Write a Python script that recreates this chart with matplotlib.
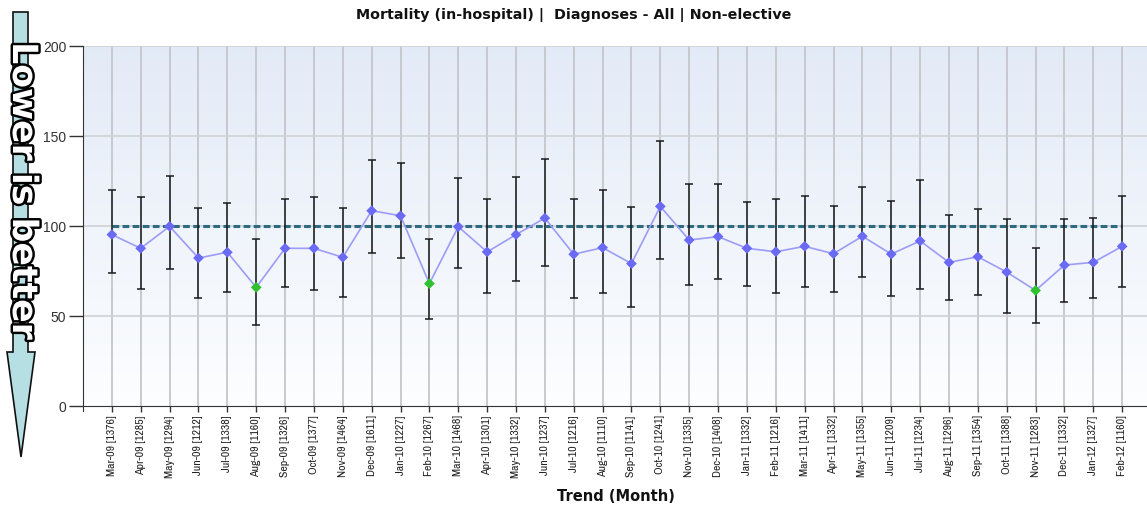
import numpy as np
import matplotlib
matplotlib.use("Agg")
import matplotlib.pyplot as plt
from matplotlib.patches import Polygon
import matplotlib.patheffects as pe

months = ["Mar-09", "Apr-09", "May-09", "Jun-09", "Jul-09", "Aug-09", "Sep-09", "Oct-09",
          "Nov-09", "Dec-09", "Jan-10", "Feb-10", "Mar-10", "Apr-10", "May-10", "Jun-10",
          "Jul-10", "Aug-10", "Sep-10", "Oct-10", "Nov-10", "Dec-10", "Jan-11", "Feb-11",
          "Mar-11", "Apr-11", "May-11", "Jun-11", "Jul-11", "Aug-11", "Sep-11", "Oct-11",
          "Nov-11", "Dec-11", "Jan-12", "Feb-12"]
counts = [1376, 1285, 1294, 1212, 1338, 1160, 1326, 1377, 1464, 1611, 1227, 1267,
          1468, 1301, 1332, 1237, 1216, 1110, 1141, 1241, 1335, 1408, 1332, 1216,
          1411, 1332, 1355, 1209, 1234, 1296, 1354, 1388, 1283, 1332, 1327, 1160]
values = [95.2, 87.6, 99.8, 82.2, 85.4, 65.9, 87.6, 87.6, 82.6, 108.5, 105.7, 68.0,
          99.6, 85.6, 95.2, 104.4, 84.3, 88.0, 79.1, 110.9, 92.2, 94.1, 87.6, 85.7,
          88.7, 84.6, 94.3, 84.4, 91.7, 79.8, 82.9, 74.4, 64.2, 78.3, 79.8, 88.7]
upper = [120.2, 115.9, 127.8, 110.0, 112.9, 92.6, 114.8, 116.3, 110.0, 136.7, 134.8, 92.6,
         126.9, 114.8, 127.4, 137.2, 114.8, 120.2, 110.4, 147.0, 123.3, 123.3, 113.5, 114.8,
         116.5, 110.9, 121.5, 114.1, 125.7, 105.9, 109.4, 104.1, 87.6, 104.1, 104.4, 116.5]
lower = [73.7, 64.8, 76.3, 59.8, 63.3, 45.2, 65.9, 64.2, 60.4, 85.2, 82.2, 48.5,
         76.9, 62.6, 69.3, 77.8, 59.8, 62.6, 55.0, 81.9, 67.4, 70.4, 66.5, 62.6,
         65.9, 63.3, 71.9, 60.9, 64.8, 58.9, 61.5, 51.5, 46.1, 57.9, 59.8, 65.9]
benchmark = 100
y_ticks = [0, 50, 100, 150, 200]

title = "Mortality (in-hospital) |  Diagnoses - All | Non-elective"
xlabel = "Trend (Month)"
arrow_text = "Lower is better"

W, H = 1147, 506
fig = plt.figure(figsize=(W / 100, H / 100), dpi=100)
fig.patch.set_facecolor("white")

ax_left, ax_bottom, ax_top = 83, 407, 47
ax = fig.add_axes([ax_left / W, (H - ax_bottom) / H, (W - ax_left) / W, (ax_bottom - ax_top) / H])

x = np.arange(len(months))
xmin, xmax = -1.0, len(months) - 0.14

# gradient background (light blue at top, near white at bottom)
grad = np.linspace(0, 1, 256).reshape(-1, 1)
top_c = np.array([0.89, 0.92, 0.97])
bot_c = np.array([0.99, 0.995, 1.0])
img = top_c[None, None, :] * (1 - grad[:, :, None]) + bot_c[None, None, :] * grad[:, :, None]
ax.imshow(img, extent=[xmin, xmax, 0, 200], aspect="auto", zorder=0, origin="upper")
ax.set_xlim(xmin, xmax)
ax.set_ylim(0, 200)

# grid
for xi in x:
    ax.axvline(xi, color="#c4c6ca", lw=1.3, zorder=1)
for yt in y_ticks[1:]:
    ax.axhline(yt, color="#cfd1d5", lw=1.2, zorder=1)

# benchmark dashed line
ax.plot([x[0], x[-1]], [benchmark, benchmark], color="#2e6a80", lw=2.2,
        dashes=(2.2, 1.1), zorder=2)

vals = np.array(values)
up = np.array(upper)
lo = np.array(lower)
ax.errorbar(x, vals, yerr=[vals - lo, up - vals], fmt="none", ecolor="#1a1a1a",
            elinewidth=1.1, capsize=3.2, capthick=1.1, zorder=3)
ax.plot(x, vals, color="#9c9cf7", lw=1.2, zorder=4)
colors = ["#2fc12f" if u < benchmark else "#6a6af2" for u in up]
ax.scatter(x, vals, marker="D", s=30, c=colors, edgecolors="none", zorder=5)

# spines
for s in ["top", "right"]:
    ax.spines[s].set_visible(False)
ax.spines["left"].set_color("#333333")
ax.spines["bottom"].set_color("#333333")
ax.spines["left"].set_bounds(-2.5, 200)

ax.set_yticks(y_ticks)
ax.set_yticklabels([str(v) for v in y_ticks], fontsize=10, color="#333333",
                   family=["Liberation Sans", "DejaVu Sans"])
ax.tick_params(axis="y", length=10, width=1, color="#333333", pad=2)

ax.set_xticks(x)
ax.set_xticklabels([f"{m} [{c}]" for m, c in zip(months, counts)], rotation=90,
                   fontsize=8.5, color="#222222",
                   family=["Archivo Narrow", "PT Sans Narrow", "DejaVu Sans"])
ax.tick_params(axis="x", length=4, width=1, color="#333333", pad=2)

fig.text(0.5, 1 - 15 / H, title, ha="center", va="center", fontsize=10.3,
         fontweight="bold", fontstretch="normal", family="DejaVu Sans", color="#111111")
fig.text(616 / W, 1 - 497 / H, xlabel, ha="center", va="center", fontsize=10.5,
         fontweight="bold", fontstretch="normal", family="DejaVu Sans", color="#111111")

# "Lower is better" arrow
pts_px = [(13, 13), (28, 13), (28, 353), (35, 353), (21, 458), (7, 353), (13, 353)]
pts = [(px / W, 1 - py / H) for px, py in pts_px]
arrow = Polygon(pts, closed=True, transform=fig.transFigure, facecolor="#b5dfe2",
                edgecolor="#111111", lw=1.2, zorder=10)
fig.patches.append(arrow)
t = fig.text(23 / W, 1 - 192 / H, arrow_text, rotation=270, ha="center", va="center",
             fontsize=25, fontweight="bold", fontstretch="normal", color="white",
             family=["DejaVu Sans"], zorder=11)
t.set_path_effects([pe.withStroke(linewidth=3.5, foreground="black")])

fig.savefig("out.png", dpi=100)
